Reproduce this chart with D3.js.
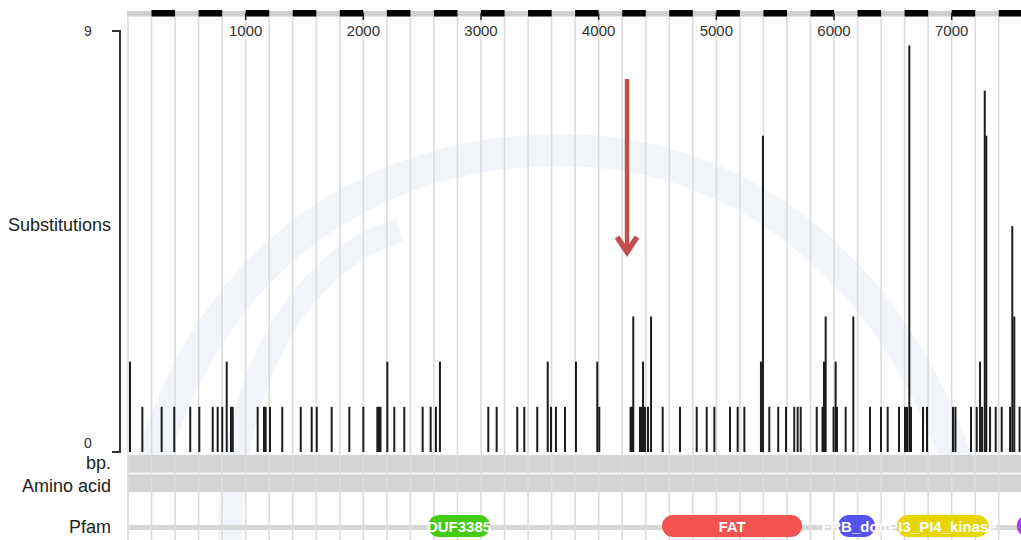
<!DOCTYPE html>
<html><head><meta charset="utf-8">
<script src="https://cdn.jsdelivr.net/npm/d3@7"></script>
<style>
body{margin:0;background:#fff;overflow:hidden;}
svg{display:block;font-family:"Liberation Sans",Arial,Helvetica,sans-serif;}
</style>
</head><body>
<svg id="chart" width="1021" height="540"></svg>
<script>
// ---- data ----
const positions = [17,122,286,393,529,606,720,762,801,839,875,890,1102,1156,1170,1207,1311,
  1468,1561,1604,1731,1881,2000,2119,2133,2146,2204,2263,2348,2504,2572,2617,2651,
  3062,3133,3308,3368,3478,3567,3595,3637,3714,3807,3988,4005,
  4271,4283,4294,4351,4368,4377,4394,4419,4445,4544,4691,4833,4918,4983,5116,5181,5238,
  5379,5396,5450,5526,5592,5662,5691,5717,5853,5902,5915,5929,5996,6014,6025,6099,6164,
  6306,6399,6456,6552,6603,6620,6640,6654,6756,6790,7011,7032,7164,7213,7241,7258,7281,
  7294,7326,7374,7425,7496,7515,7532,7577];
const substitutions = [2,1,1,1,1,1,1,1,1,2,1,1,1,1,1,1,1,
  1,1,1,1,1,1,1,1,1,2,1,1,1,1,1,2,
  1,1,1,1,1,2,1,1,1,2,2,1,
  1,1,3,1,1,2,1,1,3,1,1,1,1,1,1,1,1,
  2,7,1,1,1,1,1,1,1,1,2,3,1,2,1,1,3,
  1,1,1,1,1,1,9,1,1,1,1,1,1,1,2,1,8,
  7,1,1,1,1,5,3,1];
const xTickValues = [1000,2000,3000,4000,5000,6000,7000];
const yTickLabels = ["0","9"];
const trackLabels = ["bp.","Amino acid","Pfam"];
const pfamNames  = ["DUF3385","FAT","FRB_dom","PI3_PI4_kinase",""];
const pfamStart  = [2550,4538,6034,6533,7553];
const pfamEnd    = [3077,5728,6349,7311,7900];
const pfamColors = ["#44cc14","#f3534f","#5654ee","#e8d500","#b23be0"];

// ---- layout ----
const W = 1021, H = 540;
const svg = d3.select("#chart");
const x = d3.scaleLinear().domain([0, 7600]).range([128, 128 + 7600 * 0.11767]);
const yMaxDomain = 9.32;
const y = d3.scaleLinear().domain([0, yMaxDomain]).range([452, 31]);
const plotL = 127, plotR = W;

// faint background watermark
const wm = svg.append("g").attr("fill","none").attr("stroke","#f1f5fa").attr("stroke-width",32);
wm.append("path")
  .attr("d", "M150,470 C210,250 380,150 560,150 C760,150 900,290 960,470");
wm.append("path").attr("stroke-width",24)
  .attr("d", "M230,540 C230,380 300,260 400,230");

// bottom tracks
svg.append("rect").attr("x",plotL).attr("y",455).attr("width",plotR-plotL).attr("height",37).attr("fill","#d4d4d4");
svg.append("rect").attr("x",plotL).attr("y",472.5).attr("width",plotR-plotL).attr("height",2).attr("fill","#f4f4f4");
svg.append("rect").attr("x",plotL).attr("y",525).attr("width",plotR-plotL).attr("height",5).attr("fill","#d8d8d8");

// grid lines every 200 bp
const gridVals = d3.range(0, 7601, 200);
svg.append("g").selectAll("line").data(gridVals).join("line")
  .attr("x1",d=>x(d)).attr("x2",d=>x(d)).attr("y1",17).attr("y2",H)
  .attr("stroke","#dcdcdc").attr("stroke-width",1.6);

// top ruler
svg.append("rect").attr("x",plotL).attr("y",11).attr("width",plotR-plotL).attr("height",5.5).attr("fill","#cfcfcf");
svg.append("g").selectAll("rect").data(gridVals.filter((d,i)=>i%2===1)).join("rect")
  .attr("x",d=>x(d)).attr("width",d=>x(d+200)-x(d)).attr("y",10).attr("height",6.5).attr("fill","#000");
const xAxis = svg.append("g");
xAxis.selectAll("line").data(xTickValues).join("line")
  .attr("x1",d=>x(d)).attr("x2",d=>x(d)).attr("y1",13).attr("y2",20)
  .attr("stroke","#222").attr("stroke-width",1.5);
xAxis.selectAll("text").data(xTickValues).join("text")
  .attr("x",d=>x(d)).attr("y",36).attr("text-anchor","middle")
  .attr("font-size",15).attr("fill","#333").text(d=>d);

// y axis bracket
svg.append("path")
  .attr("d",`M112,${y(yMaxDomain)}H120V${y(0)}H112`)
  .attr("fill","none").attr("stroke","#333").attr("stroke-width",2);
svg.append("g").selectAll("text").data(yTickLabels).join("text")
  .attr("x",88).attr("y",(d,i)=> i===0 ? y(0)-4 : y(yMaxDomain)+5)
  .attr("text-anchor","middle").attr("font-size",14).attr("fill","#333").text(d=>d);
svg.append("text").attr("x",111).attr("y",231).attr("text-anchor","end")
  .attr("font-size",18).attr("fill","#222").text("Substitutions");

// bars
svg.append("g").selectAll("line").data(positions.map((p,i)=>({p, v:substitutions[i]}))).join("line")
  .attr("x1",d=>x(d.p)).attr("x2",d=>x(d.p))
  .attr("y1",y(0)).attr("y2",d=>y(d.v))
  .attr("stroke","#1c1c1c").attr("stroke-width",2);

// track labels
const trackY = [469, 492, 533];
svg.append("g").selectAll("text").data(trackLabels).join("text")
  .attr("x",111).attr("y",(d,i)=>trackY[i]).attr("text-anchor","end")
  .attr("font-size",18).attr("fill","#222").text(d=>d);

// pfam domains
const pf = svg.append("g");
const pfData = pfamNames.map((n,i)=>({n, s:pfamStart[i], e:pfamEnd[i], c:pfamColors[i]}));
pf.selectAll("rect").data(pfData).join("rect")
  .attr("x",d=>x(d.s)).attr("width",d=>x(d.e)-x(d.s))
  .attr("y",515).attr("height",22).attr("rx",11).attr("fill",d=>d.c);
pf.selectAll("text").data(pfData.filter(d=>d.n)).join("text")
  .attr("x",d=>(x(d.s)+x(d.e))/2).attr("y",532).attr("text-anchor","middle")
  .attr("font-size",15).attr("font-weight","bold").attr("fill","#fff").text(d=>d.n);

// annotation arrow
const ax = x(4241);
const ar = svg.append("g").attr("stroke","#c04e4b").attr("fill","none");
ar.append("line").attr("x1",ax).attr("x2",ax).attr("y1",79).attr("y2",252).attr("stroke-width",4.5);
ar.append("path").attr("d",`M${ax-10},237 L${ax},252 L${ax+10},237`)
  .attr("stroke-width",5.5).attr("stroke-linejoin","miter");
</script>
</body></html>
